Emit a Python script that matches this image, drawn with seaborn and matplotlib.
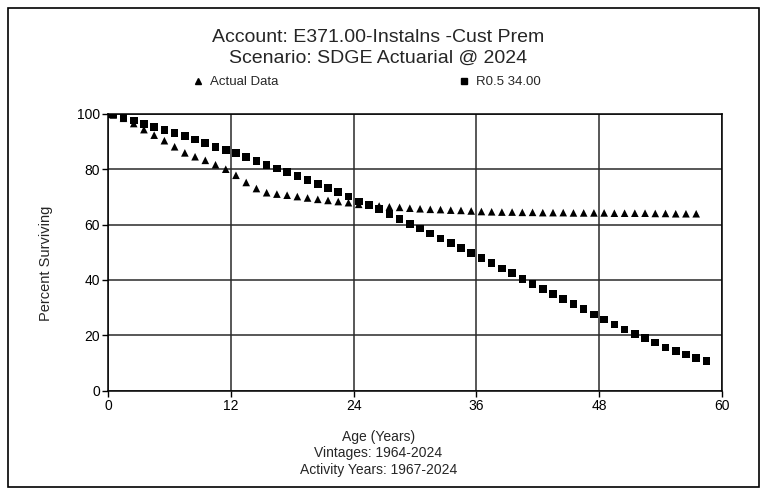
import matplotlib
matplotlib.use("Agg")
import matplotlib.pyplot as plt
import seaborn as sns
import pandas as pd
from matplotlib.lines import Line2D
from matplotlib.patches import Rectangle

# ---- data ----
ages_fit = [0, 0.5] + [i + 0.5 for i in range(1, 59)]
fit_values = [100, 99.8, 98.8, 97.6, 96.4, 95.2, 94.2, 93.1, 91.9, 90.7, 89.4,
              88.1, 87.0, 85.8, 84.3, 83.0, 81.6, 80.3, 79.0, 77.6, 76.1,
              74.6, 73.1, 71.7, 70.2, 68.3, 67.0, 65.6, 63.8, 61.9, 60.2,
              58.5, 56.8, 55.0, 53.3, 51.6, 49.8, 47.9, 46.0, 44.1, 42.4,
              40.4, 38.6, 36.6, 34.8, 33.0, 31.2, 29.4, 27.5, 25.7, 23.9,
              22.1, 20.5, 19.0, 17.3, 15.6, 14.3, 13.0, 11.8, 10.6]

ages_actual = [0, 0.5] + [i + 0.5 for i in range(1, 58)]
actual_values = [100, 99.6, 98.4, 96.5, 94.3, 92.3, 90.3, 88.1, 85.9, 84.5, 83.2,
                 81.6, 80.0, 77.8, 75.2, 73.0, 71.5, 71.0, 70.6, 70.1, 69.6,
                 69.1, 68.7, 68.3, 67.9, 67.3, 67.0, 66.7, 66.4, 66.2, 65.9,
                 65.7, 65.5, 65.4, 65.2, 65.1, 64.9, 64.7, 64.6, 64.5, 64.5,
                 64.4, 64.4, 64.3, 64.3, 64.3, 64.2, 64.2, 64.2, 64.2, 64.1,
                 64.1, 64.1, 64.1, 64.0, 64.0, 63.9, 63.9, 63.9]

series_names = ["Actual Data", "R0.5 34.00"]
x_ticks = [0, 12, 24, 36, 48, 60]
y_ticks = [0, 20, 40, 60, 80, 100]
title_lines = ["Account: E371.00-Instalns -Cust Prem", "Scenario: SDGE Actuarial @ 2024"]
xlabel_lines = ["Age (Years)", "Vintages: 1964-2024", "Activity Years: 1967-2024"]

df = pd.concat([
    pd.DataFrame({"Age": ages_actual, "Pct": actual_values, "Series": series_names[0]}),
    pd.DataFrame({"Age": ages_fit, "Pct": fit_values, "Series": series_names[1]}),
], ignore_index=True)

sns.set_theme(style="white")
plt.rcParams["font.family"] = ["Liberation Sans", "DejaVu Sans"]

fig = plt.figure(figsize=(7.67, 4.95), dpi=100)
ax = fig.add_axes([0.141, 0.211, 0.800, 0.559])

sns.scatterplot(data=df, x="Age", y="Pct", hue="Series", style="Series",
                markers={series_names[0]: "^", series_names[1]: "s"},
                palette={series_names[0]: "black", series_names[1]: "black"},
                s=30, linewidth=0, ax=ax, legend=False, zorder=3)

ax.set_xlim(0, 60)
ax.set_ylim(0, 100)
ax.set_xticks(x_ticks)
ax.set_yticks(y_ticks)
ax.tick_params(axis="both", which="both", direction="out", length=4, width=1,
               colors="black", labelsize=10, pad=2, bottom=True, left=True)
ax.grid(True, color="#2a2a2a", linewidth=1.1)
ax.set_axisbelow(True)
for sp in ax.spines.values():
    sp.set_color("black")
    sp.set_linewidth(1.1)
ax.set_ylabel("Percent Surviving", fontsize=10.5)
ax.yaxis.set_label_coords(-0.09, 0.46)
ax.set_xlabel("\n".join(xlabel_lines), fontsize=10, linespacing=1.22)
ax.xaxis.set_label_coords(0.44, -0.142)

fig.text(0.493, 0.925, title_lines[0], ha="center", va="center", fontsize=14)
fig.text(0.493, 0.882, title_lines[1], ha="center", va="center", fontsize=14)

handles = [Line2D([], [], marker="^", linestyle="", color="black", markersize=4.5),
           Line2D([], [], marker="s", linestyle="", color="black", markersize=4.5)]
fig.legend(handles, series_names, loc="center", bbox_to_anchor=(0.477, 0.834),
           ncol=2, frameon=False, fontsize=9.5, columnspacing=13.6, handletextpad=0.4,
           handlelength=1)

fig.patches.append(Rectangle((0.011, 0.016), 0.978, 0.968, transform=fig.transFigure,
                             fill=False, edgecolor="black", linewidth=1.2))

fig.savefig("out.png", dpi=100)
